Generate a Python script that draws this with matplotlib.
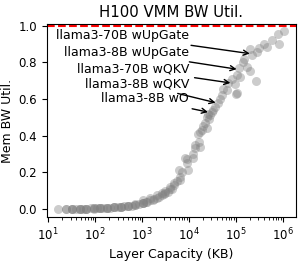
import matplotlib
matplotlib.use("Agg")
import matplotlib.pyplot as plt

capacity_kb = [
    16, 24, 24, 32, 32, 32, 40, 48, 48, 48, 56, 64, 64, 64, 80, 96, 96, 96,
    112, 128, 128, 128, 150, 180, 180, 180, 210, 256, 256, 256, 300, 360, 360,
    360, 420, 512, 512, 512, 600, 720, 720, 720, 850, 1024, 1024, 1024, 1070,
    1200, 1300, 1480, 1480, 1700, 1800, 2040, 2040, 2300, 2600, 2600, 2900,
    3090, 3090, 3500, 3890, 3890, 4300, 4680, 4680, 5500, 6170, 6460, 6460,
    7200, 8320, 8910, 8910, 9550, 12300, 12300, 13500, 13500, 15800, 16200,
    17000, 17000, 18600, 20000, 22000, 24000, 24000, 25700, 26000, 28000,
    30200, 33000, 35500, 41700, 45000, 50100, 52500, 63100, 69200, 81300,
    95500, 100000, 105000, 105000, 117000, 123000, 138000, 145000, 170000,
    200000, 200000, 219000, 269000, 275000, 302000, 398000, 468000, 575000,
    794000, 832000, 1070000,
]
bw_util = [
    0.000, 0.000, 0.001, 0.001, 0.001, 0.000, 0.001, 0.001, 0.002, 0.001, 0.002,
    0.002, 0.002, 0.001, 0.003, 0.003, 0.003, 0.002, 0.004, 0.004, 0.004, 0.005,
    0.005, 0.005, 0.006, 0.007, 0.007, 0.008, 0.008, 0.010, 0.010, 0.011, 0.012,
    0.013, 0.014, 0.015, 0.016, 0.018, 0.018, 0.021, 0.023, 0.025, 0.026, 0.030,
    0.032, 0.035, 0.050, 0.036, 0.040, 0.058, 0.048, 0.050, 0.056, 0.076, 0.062,
    0.065, 0.075, 0.085, 0.080, 0.085, 0.100, 0.095, 0.120, 0.110, 0.110, 0.140,
    0.130, 0.150, 0.210, 0.176, 0.160, 0.200, 0.276, 0.250, 0.270, 0.210, 0.276,
    0.300, 0.350, 0.330, 0.410, 0.367, 0.340, 0.420, 0.430, 0.450, 0.470, 0.440,
    0.503, 0.520, 0.490, 0.510, 0.530, 0.540, 0.557, 0.576, 0.600, 0.620, 0.654,
    0.650, 0.685, 0.707, 0.680, 0.627, 0.730, 0.630, 0.767, 0.720, 0.800, 0.820,
    0.775, 0.870, 0.754, 0.840, 0.700, 0.857, 0.880, 0.900, 0.885, 0.920, 0.954,
    0.900, 0.970,
]

# annotated layers: label, point (KB, util), label height
layer_names = ["llama3-70B wUpGate", "llama3-8B wUpGate", "llama3-70B wQKV",
               "llama3-8B wQKV", "llama3-8B wO"]
layer_kb = [225000, 118000, 87000, 42000, 29000]
layer_util = [0.845, 0.760, 0.685, 0.576, 0.525]
label_util = [0.945, 0.855, 0.765, 0.684, 0.600]

fig, ax = plt.subplots(figsize=(2.99, 2.62), dpi=100)
fig.subplots_adjust(left=0.157, right=0.99, top=0.908, bottom=0.171)

ax.scatter(capacity_kb, bw_util, s=42, color="gray", alpha=0.4, linewidths=0)
ax.axhline(1.0, color="red", linestyle="--", linewidth=1.5)

for name, kx, ky, ty in zip(layer_names, layer_kb, layer_util, label_util):
    ax.annotate(name, xy=(kx, ky), xytext=(1e4, ty), ha="right", va="center",
                fontsize=9,
                arrowprops=dict(arrowstyle="->", color="black", lw=1))

ax.set_xscale("log")
ax.set_xlim(9.4, 1.9e6)
ax.set_xticks([1e1, 1e2, 1e3, 1e4, 1e5, 1e6])
ax.set_ylim(-0.045, 1.008)
ax.set_yticks([0.0, 0.2, 0.4, 0.6, 0.8, 1.0])
ax.set_title("H100 VMM BW Util.", fontsize=10.7, pad=5)
ax.set_xlabel("Layer Capacity (KB)", fontsize=9, labelpad=3)
ax.set_ylabel("Mem BW Util.", fontsize=9, labelpad=3)
ax.tick_params(labelsize=8.5)

plt.savefig("out.png", dpi=100)
